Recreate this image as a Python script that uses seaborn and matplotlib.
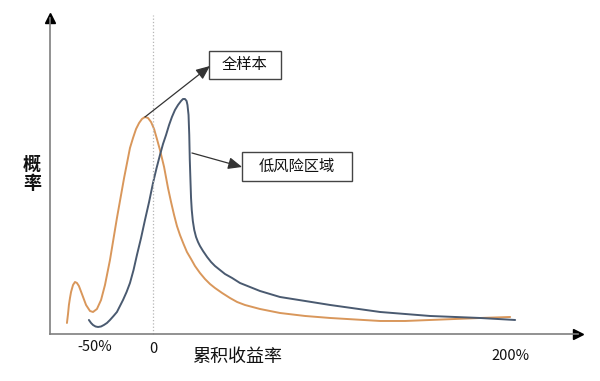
import numpy as np
import pandas as pd
import matplotlib
matplotlib.use("Agg")
import matplotlib.pyplot as plt
import seaborn as sns
from matplotlib.patches import Rectangle

# ======================================================
# DATA (schematic units)
# ======================================================
full_x = [-48.2, -47.6, -47.1, -46.5, -45.9, -44.8, -43.7, -42.6, -41.5, -39.8,
          -37.5, -35.3, -33.6, -31.4, -29.1, -26.9, -24.1, -20.2, -16.2, -12.9,
          -11.2, -9.5, -7.8, -6.2, -4.5, -2.8, -1.1, 0.6, 2.2, 3.9,
          6.2, 8.4, 10.1, 11.8, 13.4, 15.1, 17.1, 19.0, 21.3, 23.5,
          26.3, 29.1, 31.9, 34.7, 38.7, 43.1, 47.1, 51.5, 59.9, 71.1,
          85.2, 99.2, 113.2, 127.2, 141.2, 155.2, 169.2, 183.2, 200.0]
full_y = [0.011, 0.020, 0.029, 0.036, 0.042, 0.049, 0.052, 0.051, 0.048, 0.040,
          0.029, 0.023, 0.022, 0.025, 0.034, 0.049, 0.074, 0.116, 0.156, 0.186,
          0.196, 0.205, 0.211, 0.215, 0.217, 0.216, 0.212, 0.205, 0.195, 0.184,
          0.167, 0.146, 0.132, 0.119, 0.108, 0.099, 0.090, 0.082, 0.075, 0.068,
          0.061, 0.055, 0.050, 0.046, 0.041, 0.036, 0.032, 0.029, 0.025, 0.021,
          0.018, 0.016, 0.0145, 0.013, 0.013, 0.014, 0.015, 0.016, 0.017]

low_x = [-35.9, -34.7, -33.6, -32.2, -30.8, -29.1, -27.5, -25.8, -24.1, -22.1,
         -20.2, -18.5, -16.8, -14.8, -12.9, -10.9, -9.0, -6.7, -4.5, -2.2,
         0.0, 2.0, 3.9, 5.6, 7.3, 9.0, 10.6, 12.3, 14.0, 15.7,
         16.8, 17.9, 18.8, 19.3, 19.9, 20.3, 20.6, 21.0, 21.3, 21.7,
         22.3, 23.1, 24.1, 25.2, 26.3, 28.0, 30.3, 32.5, 34.7, 37.5,
         40.3, 44.3, 48.7, 59.9, 71.1, 85.2, 99.2, 113.2, 127.2, 141.2,
         155.2, 169.2, 183.2, 202.8]
low_y = [0.014, 0.011, 0.009, 0.0075, 0.007, 0.0075, 0.009, 0.011, 0.014, 0.018,
         0.022, 0.028, 0.034, 0.042, 0.051, 0.064, 0.079, 0.096, 0.114, 0.132,
         0.151, 0.166, 0.179, 0.190, 0.199, 0.209, 0.217, 0.224, 0.229, 0.233,
         0.235, 0.235, 0.233, 0.229, 0.219, 0.199, 0.174, 0.152, 0.136, 0.124,
         0.113, 0.104, 0.097, 0.092, 0.088, 0.083, 0.077, 0.072, 0.068, 0.064,
         0.060, 0.056, 0.051, 0.043, 0.037, 0.033, 0.029, 0.0255, 0.022, 0.020,
         0.018, 0.017, 0.016, 0.014]

tick_pos = [-32.5, 0.0, 200.0]
tick_labels = ["-50%", "0", "200%"]

ORANGE = "#D9975B"
BLUE = "#4A5A70"
AXIS_GRAY = "#7F7F7F"
TEXT = "#111111"

# ======================================================
# STYLE
# ======================================================
sns.set_theme(style="white")
plt.rcParams["font.family"] = ["Noto Sans CJK SC", "DejaVu Sans"]

fig = plt.figure(figsize=(6, 3.81), dpi=100)
ax = fig.add_axes([0.0833, 0.1234, 0.88, 0.8294])

df_full = pd.DataFrame({"x": full_x, "y": full_y})
df_low = pd.DataFrame({"x": low_x, "y": low_y})
sns.lineplot(data=df_full, x="x", y="y", color=ORANGE, lw=1.4, sort=False,
             estimator=None, ax=ax)
sns.lineplot(data=df_low, x="x", y="y", color=BLUE, lw=1.4, sort=False,
             estimator=None, ax=ax)

ax.set_xlim(-57.7, 238)
ax.set_ylim(0, 0.316)
ax.set_xticks([])
ax.set_yticks([])
ax.set_xlabel("")
ax.set_ylabel("")
for s in ["top", "right"]:
    ax.spines[s].set_visible(False)
for s in ["left", "bottom"]:
    ax.spines[s].set_color(AXIS_GRAY)
    ax.spines[s].set_linewidth(1.2)

# arrow heads on the axes
ax.plot([1], [0], marker=">", color="black", ms=7, transform=ax.transAxes, clip_on=False)
ax.plot([0], [1], marker="^", color="black", ms=7, transform=ax.transAxes, clip_on=False)

# dotted zero line
ax.axvline(0, ymin=0, ymax=1.01, color="#B5B5B5", lw=0.9, ls=":", clip_on=False)

# tick labels
tick_y = [-0.013, -0.015, -0.022]
for p, lab, ty in zip(tick_pos, tick_labels, tick_y):
    ax.text(p, ty, lab, ha="center", va="center", fontsize=10.5, color=TEXT,
            clip_on=False)

ax.text(47.1, -0.023, "累积收益率", ha="center", va="center", fontsize=13,
        color=TEXT, clip_on=False)
ax.text(-67.8, 0.160, "概\n率", ha="center", va="center", fontsize=13,
        linespacing=1.0, color=TEXT, fontweight="bold", clip_on=False)

# callout boxes
ax.add_patch(Rectangle((31.4, 0.255), 40.3, 0.028, fill=False, ec="#444444", lw=1.0))
ax.text(51.5, 0.269, "全样本", ha="center", va="center", fontsize=11, color=TEXT)
ax.add_patch(Rectangle((49.9, 0.153), 61.6, 0.029, fill=False, ec="#444444", lw=1.0))
ax.text(80.7, 0.1675, "低风险区域", ha="center", va="center", fontsize=11, color=TEXT)

arrow = dict(arrowstyle="-|>,head_length=0.7,head_width=0.3", color="#333333",
             lw=0.9, shrinkA=0, shrinkB=0)
ax.annotate("", xy=(31.9, 0.268), xytext=(-4.5, 0.217), arrowprops=arrow)
ax.annotate("", xy=(49.9, 0.167), xytext=(21.8, 0.181), arrowprops=arrow)

fig.savefig("out.png", dpi=100)
